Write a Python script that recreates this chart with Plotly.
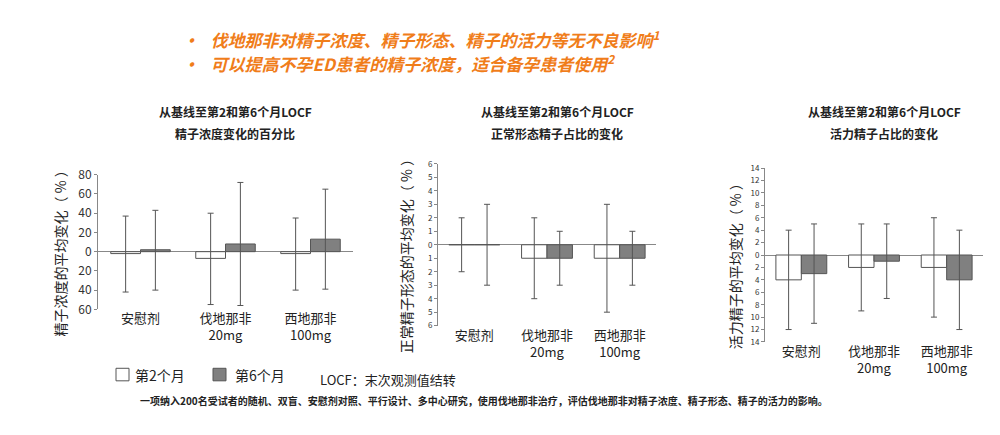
import plotly.graph_objects as go

# categories and series
groups = ['安慰剂', '伐地那非<br>20mg', '西地那非<br>100mg']

conc_m2 = [-2, -7, -2]
conc_m6 = [2, 8, 13]
conc_m2_hi = [37, 40, 35]
conc_m2_lo = [-42, -55, -40]
conc_m6_hi = [43, 72, 65]
conc_m6_lo = [-40, -56, -39]

morph_m2 = [0, -1, -1]
morph_m6 = [0, -1, -1]
morph_m2_hi = [2, 2, 3]
morph_m2_lo = [-2, -4, -5]
morph_m6_hi = [3, 1, 1]
morph_m6_lo = [-3, -3, -3]

mot_m2 = [-4, -2, -2]
mot_m6 = [-3, -1, -4]
mot_m2_hi = [4, 5, 6]
mot_m2_lo = [-12, -9, -10]
mot_m6_hi = [5, 5, 4]
mot_m6_lo = [-11, -7, -12]

font = 'Noto Sans CJK SC'
fig = go.Figure()

panels = [
    (conc_m2, conc_m6, conc_m2_hi, conc_m2_lo, conc_m6_hi, conc_m6_lo,
     [-60, 80], list(range(-60, 81, 20)), [0.09, 0.345], [0.303, 0.625],
     '精子浓度变化的百分比', '精子浓度的平均变化（ % ）', 0.052),
    (morph_m2, morph_m6, morph_m2_hi, morph_m2_lo, morph_m6_hi, morph_m6_lo,
     [-6, 6], list(range(-6, 7)), [0.43, 0.648], [0.264, 0.651],
     '正常形态精子占比的变化', '正常精子形态的平均变化（ % ）', 0.398),
    (mot_m2, mot_m6, mot_m2_hi, mot_m2_lo, mot_m6_hi, mot_m6_lo,
     [-14, 14], list(range(-14, 15, 2)), [0.757, 0.975], [0.225, 0.641],
     '活力精子占比的变化', '活力精子的平均变化（ % ）', 0.727),
]

for i, (m2, m6, h2, l2, h6, l6, rng, ticks, xd, yd, title, ytitle, ytx) in enumerate(panels, start=1):
    xa = 'x' if i == 1 else 'x%d' % i
    ya = 'y' if i == 1 else 'y%d' % i
    for vals, hi, lo, col, nm in [(m2, h2, l2, 'white', '第2个月'), (m6, h6, l6, '#808080', '第6个月')]:
        fig.add_trace(go.Bar(
            x=groups, y=vals, name=nm, xaxis=xa, yaxis=ya, showlegend=False,
            marker=dict(color=col, line=dict(color='#555555', width=1)),
            error_y=dict(type='data', symmetric=False,
                         array=[h - v for h, v in zip(hi, vals)],
                         arrayminus=[v - l for v, l in zip(vals, lo)],
                         color='#555555', thickness=1, width=3)))
    fig.layout['xaxis%s' % ('' if i == 1 else i)] = dict(
        domain=xd, anchor=ya, showline=False, showgrid=False, ticks='',
        tickfont=dict(size=13, color='#222'))
    fig.layout['yaxis%s' % ('' if i == 1 else i)] = dict(
        domain=yd, anchor=xa, range=rng, tickvals=ticks,
        ticktext=[str(abs(t)) for t in ticks], showgrid=False,
        showline=True, linecolor='#888', ticks='outside', ticklen=3, tickcolor='#888',
        zeroline=True, zerolinecolor='#888', zerolinewidth=1,
        tickfont=dict(size=12 if i == 1 else 8, color='#333'))
    cx = (xd[0] + xd[1]) / 2 + 0.01
    fig.add_annotation(text='<b>从基线至第2和第6个月LOCF</b>', xref='paper', yref='paper',
                       x=cx, y=0.777, xanchor='center', yanchor='middle', showarrow=False,
                       font=dict(size=12, color='#222'))
    fig.add_annotation(text='<b>%s</b>' % title, xref='paper', yref='paper',
                       x=cx, y=0.724, xanchor='center', yanchor='middle', showarrow=False,
                       font=dict(size=12, color='#222'))
    fig.add_annotation(text=ytitle, xref='paper', yref='paper', x=ytx,
                       y=(yd[0] + yd[1]) / 2 - 0.02, xanchor='center', yanchor='middle',
                       textangle=-90, showarrow=False, font=dict(size=14, color='#222'))

fig.update_layout(barmode='group', bargap=0.3, bargroupgap=0.0)

# header bullets
fig.add_annotation(text='<b><i>•   伐地那非对精子浓度、精子形态、精子的活力等无不良影响<sup>1</sup></i></b>',
                   xref='paper', yref='paper', x=0.172, y=0.95, xanchor='left', yanchor='middle',
                   showarrow=False, font=dict(size=17, color='#f07d1a'))
fig.add_annotation(text='<b><i>•   可以提高不孕ED患者的精子浓度，适合备孕患者使用<sup>2</sup></i></b>',
                   xref='paper', yref='paper', x=0.172, y=0.892, xanchor='left', yanchor='middle',
                   showarrow=False, font=dict(size=17, color='#f07d1a'))

# legend
fig.add_shape(type='rect', xref='paper', yref='paper', x0=0.108, x1=0.121, y0=0.132, y1=0.162,
              line=dict(color='#555', width=1), fillcolor='white')
fig.add_shape(type='rect', xref='paper', yref='paper', x0=0.205, x1=0.218, y0=0.132, y1=0.162,
              line=dict(color='#555', width=1), fillcolor='#808080')
fig.add_annotation(text='第2个月', xref='paper', yref='paper', x=0.125, y=0.147, xanchor='left',
                   yanchor='middle', showarrow=False, font=dict(size=14, color='#222'))
fig.add_annotation(text='第6个月', xref='paper', yref='paper', x=0.225, y=0.147, xanchor='left',
                   yanchor='middle', showarrow=False, font=dict(size=14, color='#222'))
fig.add_annotation(text='LOCF：末次观测值结转', xref='paper', yref='paper', x=0.31, y=0.135,
                   xanchor='left', yanchor='middle', showarrow=False, font=dict(size=13, color='#222'))
fig.add_annotation(text='<b>一项纳入200名受试者的随机、双盲、安慰剂对照、平行设计、多中心研究，使用伐地那非治疗，评估伐地那非对精子浓度、精子形态、精子的活力的影响。</b>',
                   xref='paper', yref='paper', x=0.13, y=0.085, xanchor='left', yanchor='middle',
                   showarrow=False, font=dict(size=10, color='#222'))

fig.update_layout(width=1000, height=435, margin=dict(l=0, r=0, t=0, b=0),
                  plot_bgcolor='white', paper_bgcolor='white', font=dict(family=font))
fig.write_html('out.html')
